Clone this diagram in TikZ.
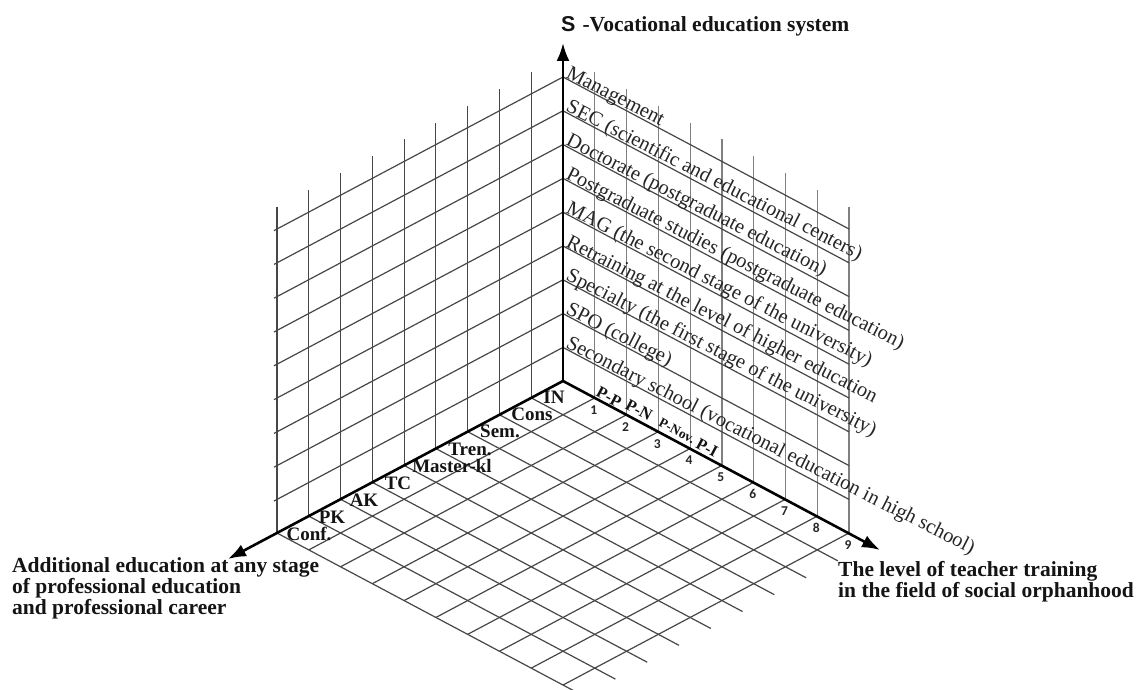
\documentclass[tikz,border=0pt]{standalone}
\usepackage{fontspec}
\setmainfont{Liberation Serif}
\newfontfamily\numfont{Carlito}
\newfontfamily\sansS{Liberation Sans}
\usetikzlibrary{arrows.meta}
\begin{document}
\begin{tikzpicture}[x=1pt,y=-1pt,
  gridline/.style={line width=1.2pt, draw=black!72},
  wallv/.style={line width=1.2pt, draw=black!50},
  axisline/.style={line width=2.6pt, draw=black, -{Latex[length=18pt,width=13pt]}},
  walltext/.style={anchor=base west, rotate=-27, inner sep=0pt, text=black!85, font=\fontsize{20.5}{20.5}\selectfont},
  axlab/.style={inner sep=0pt, text=black!92, font=\fontsize{19}{19}\selectfont\bfseries},
  rlab/.style={inner sep=0pt, rotate=-28, text=black!92, font=\fontsize{16.5}{16.5}\selectfont\bfseries},
  numlab/.style={inner sep=0pt, text=black!85, font=\numfont\fontsize{13.5}{13.5}\selectfont\bfseries},
  bigtext/.style={inner sep=0pt, align=left, anchor=base west, text=black!92}]
\useasboundingbox (0,0) rectangle (1146,690);
\fill[white] (0,0) rectangle (1146,690);
\def\ux{31.78}
\def\uy{16.89}
\def\ly{33.8}
\coordinate (O) at (563,381);
\coordinate (Ztip) at (563,43);
\coordinate (Xtip) at (228,559);
\coordinate (Ytip) at (880,550);
% left wall: verticals
\foreach \i in {1,...,9} {
  \draw[gridline] (563-\i*\ux, 381+\i*\uy) -- (563-\i*\ux, 55+\i*\uy);
}
% left wall: slanted
\foreach \k in {0,...,8} {
  \draw[gridline] (563, 77+\k*\ly) -- (274, 77+\k*\ly+153.6);
}
% right wall: verticals
\foreach \j in {1,...,9} {
  \draw[wallv] (563+\j*\ux, 381+\j*\uy) -- (563+\j*\ux, 55+\j*\uy);
}
% right wall: slanted
\foreach \k in {0,...,8} {
  \draw[gridline] (563, 77+\k*\ly) -- (563+9*\ux, 77+\k*\ly+9*\uy);
}
% floor
\foreach \i in {1,...,9} {
  \draw[gridline] (563-\i*\ux, 381+\i*\uy) -- (563-\i*\ux+9.65*\ux, 381+\i*\uy+9.65*\uy);
}
\foreach \j in {1,...,9} {
  \draw[gridline] (563+\j*\ux, 381+\j*\uy) -- (563+\j*\ux-9*\ux, 381+\j*\uy+9*\uy);
}
% wall texts
\node[walltext] (w0) at (565, 77+0*\ly) {Management};
\node[walltext] (w1) at (565, 77+1*\ly) {SEC (scientific and educational centers)};
\node[walltext] (w2) at (565, 77+2*\ly) {Doctorate (postgraduate education)};
\node[walltext] (w3) at (565, 77+3*\ly) {Postgraduate studies (postgraduate education)};
\node[walltext] (w4) at (565, 77+4*\ly) {MAG (the second stage of the university)};
\node[walltext] (w5) at (565, 77+5*\ly) {Retraining at the level of higher education};
\node[walltext] (w6) at (565, 77+6*\ly) {Specialty (the first stage of the university)};
\node[walltext] (w7) at (565, 77+7*\ly) {SPO (college)};
\node[walltext] (w8) at (565, 77+8*\ly) {Secondary school (vocational education in high school)};
% left axis labels
\node[axlab] (lIN) at (554,397) {IN};
\node[axlab] (lCons) at (532,414) {Cons};
\node[axlab] (lSem) at (500,431) {Sem.};
\node[axlab] (lTren) at (470,449) {Tren.};
\node[axlab] (lMaster) at (452,466) {Master-kl};
\node[axlab] (lTC) at (398,483) {TC};
\node[axlab] (lAK) at (364,500) {AK};
\node[axlab] (lPK) at (332,517) {PK};
\node[axlab] (lConf) at (309,534) {Conf.};
% right axis labels
\node[rlab] (rPP) at (609,397) {P-P};
\node[rlab] (rPN) at (639,410) {P-N};
\node[rlab, font=\fontsize{13.5}{13.5}\selectfont\bfseries] (rPNov) at (677,431) {P-Nov.};
\node[rlab] (rPI) at (707,448) {P-I};
% numbers
\foreach \j in {1,...,9} {
  \node[numlab] (n\j) at (562+\j*\ux, 393+\j*\uy) {\j};
}
% axes
\draw[axisline] (O) -- (Ztip);
\draw[axisline] (O) -- (Xtip);
\draw[axisline] (O) -- (Ytip);
% titles
\node[bigtext, font=\fontsize{21.5}{21.5}\selectfont\bfseries] (title) at (561,32) {{\sansS S}\hspace{7pt}-Vocational education system};
\node[bigtext, font=\fontsize{21.5}{21}\selectfont\bfseries] (xlab) at (12,614) {Additional education at any stage\\of professional education\\and professional career};
\node[bigtext, font=\fontsize{21.5}{20.5}\selectfont\bfseries] (ylab) at (838,597) {The level of teacher training\\in the field of social orphanhood};
\end{tikzpicture}
\end{document}
